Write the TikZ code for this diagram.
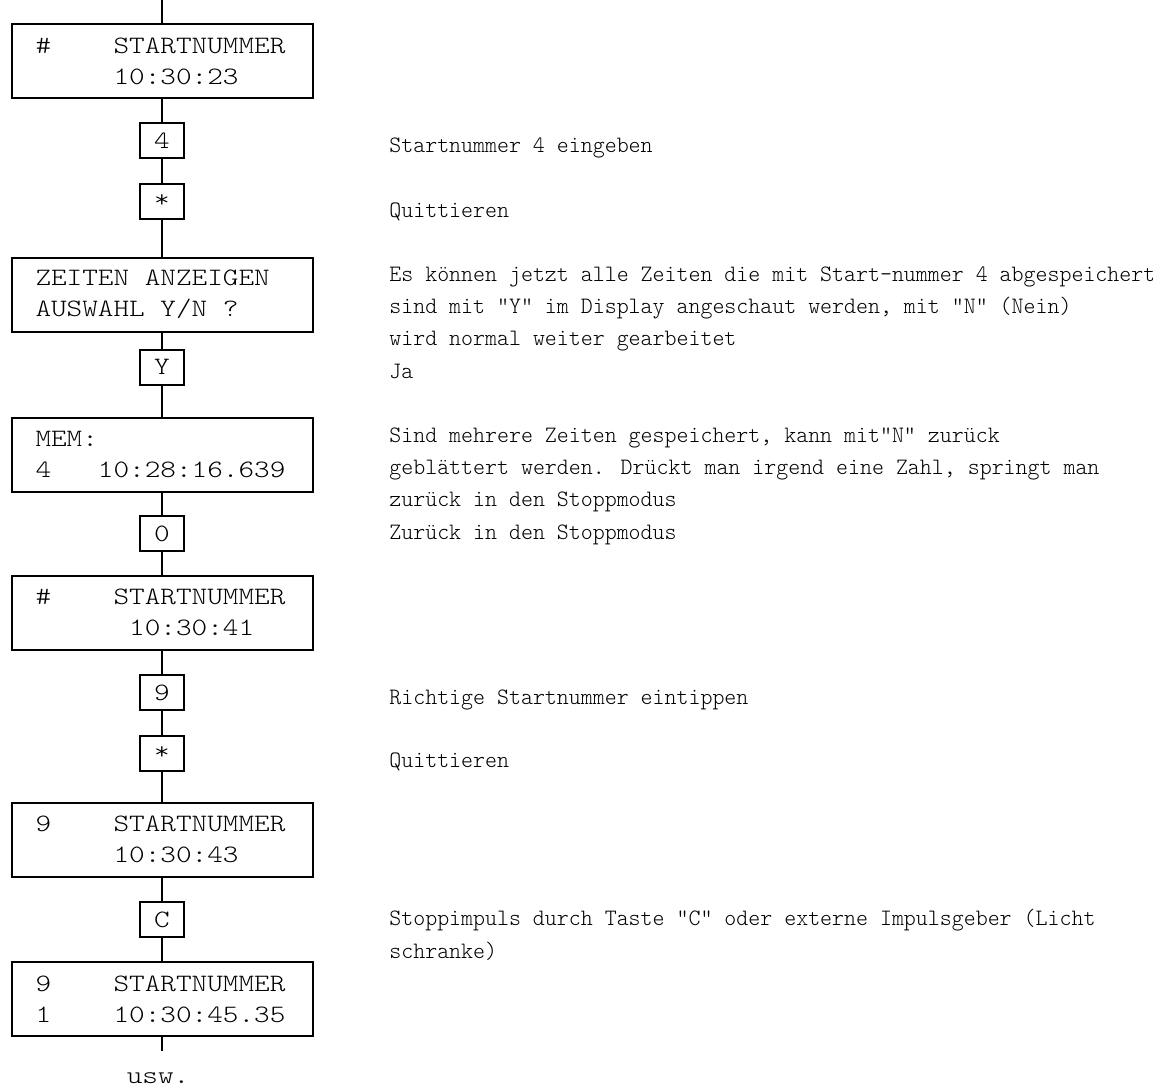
\documentclass[tikz,border=0pt]{standalone}
\usepackage{fontspec}
\newfontfamily\dispfont[FakeStretch=1.19]{lmmonolt10-regular.otf}
\newfontfamily\notefont[FakeStretch=0.97]{lmmonolt10-regular.otf}
\usetikzlibrary{positioning}
\newcommand\colskip[1]{\hspace*{#1\fontcharwd\font`\0}}

\begin{document}
\begin{tikzpicture}[x=0.5pt,y=-0.5pt,
    display/.style={draw,line width=1pt,minimum width=150.5pt,minimum height=37pt,
      text width=126.5pt,inner xsep=12pt,align=left,
      font=\dispfont\fontsize{12.5pt}{15.5pt}\selectfont},
    keybox/.style={draw,line width=1pt,minimum width=22pt,minimum height=17.5pt,
      inner sep=0pt,font=\dispfont\fontsize{12.5pt}{15.5pt}\selectfont},
    note/.style={anchor=base west,inner sep=0pt,align=left,
      font=\notefont\fontsize{11.75pt}{16.15pt}\selectfont}]
  \useasboundingbox (0,0) rectangle (1153,1088);

  % display states and keys
  \coordinate (top) at (162,0);
  \node[display] (d1) at (162,61) {\#\colskip{4}STARTNUMMER\\\colskip{5}10:30:23};
  \node[keybox] (k4) at (162,140.5) {4};
  \node[keybox] (ks1) at (162,201) {*};
  \node[display] (d2) at (162,294.5) {ZEITEN\colskip{1}ANZEIGEN\\AUSWAHL\colskip{1}Y/N\colskip{1}?};
  \node[keybox] (ky) at (162,367) {Y};
  \node[display] (d3) at (162,454.5) {MEM:\\4\colskip{3}10:28:16.639};
  \node[keybox] (k0) at (162,533.5) {0};
  \node[display] (d4) at (162,612.5) {\#\colskip{4}STARTNUMMER\\\colskip{6}10:30:41};
  \node[keybox] (k9) at (162,692.5) {9};
  \node[keybox] (ks2) at (162,753) {*};
  \node[display] (d5) at (162,839.5) {9\colskip{4}STARTNUMMER\\\colskip{5}10:30:43};
  \node[keybox] (kc) at (162,919.5) {C};
  \node[display] (d6) at (162,999) {9\colskip{4}STARTNUMMER\\1\colskip{4}10:30:45.35};
  \coordinate (bot) at (162,1051);
  \node[anchor=base,inner sep=0pt,font=\dispfont\fontsize{12.5pt}{15.5pt}\selectfont]
    (etc) at (158,1083) {usw.};

  \foreach \a/\b in {top/d1,d1/k4,k4/ks1,ks1/d2,d2/ky,ky/d3,d3/k0,k0/d4,
                     d4/k9,k9/ks2,ks2/d5,d5/kc,kc/d6,d6/bot}
    \draw[line width=1pt] (\a) -- (\b);

  % explanations (multi-line ones sit on their last line)
  \node[note] (n4) at (389,152) {Startnummer 4 eingeben};
  \node[note] (nq1) at (389,217) {Quittieren};
  \node[note] (ny) at (389,378) {Es können jetzt alle Zeiten die mit Start-nummer 4 abgespeichert\\
    sind mit "Y" im Display angeschaut werden, mit “N” (Nein)\\
    wird normal weiter gearbeitet\\Ja};
  \node[note] (nmem) at (389,539) {Sind mehrere Zeiten gespeichert, kann mit“N” zurück\\
    geblättert werden. Drückt man irgend eine Zahl, springt man\\
    zurück in den Stoppmodus\\Zurück in den Stoppmodus};
  \node[note] (n9) at (389,704) {Richtige Startnummer eintippen};
  \node[note] (nq2) at (389,767) {Quittieren};
  \node[note] (nc) at (389,958) {Stoppimpuls durch Taste “C” oder externe Impulsgeber (Licht\\
    schranke)};
\end{tikzpicture}
\end{document}
